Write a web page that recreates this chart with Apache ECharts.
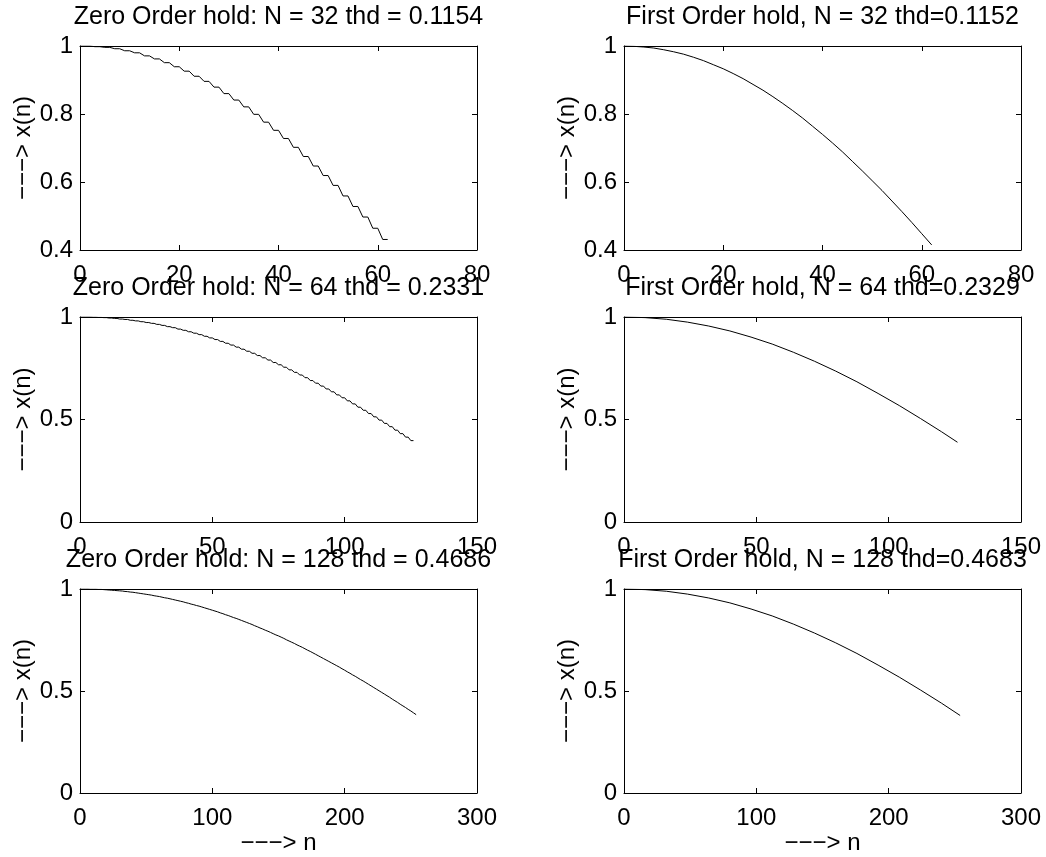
<!DOCTYPE html>
<html><head><meta charset="utf-8">
<script src="https://cdn.jsdelivr.net/npm/echarts/dist/echarts.min.js"></script>
<style>html,body{margin:0;padding:0;background:#fff}#c{width:1046px;height:857px}</style>
</head><body><div id="c"></div>
<script>
// ---- text ----
const titles = [
  "Zero Order hold: N = 32 thd = 0.1154",
  "First Order hold, N = 32 thd=0.1152",
  "Zero Order hold: N = 64 thd = 0.2331",
  "First Order hold, N = 64 thd=0.2329",
  "Zero Order hold: N = 128 thd = 0.4686",
  "First Order hold, N = 128 thd=0.4683"
];
const yName = "\u2212\u2212\u2212> x(n)";
const xName = "\u2212\u2212\u2212> n";

// ---- tick values ----
const xTicks32 = [0, 20, 40, 60, 80];
const xTicks64 = [0, 50, 100, 150];
const xTicks128 = [0, 100, 200, 300];
const yTicksTop = [0.4, 0.6, 0.8, 1];
const yTicksLow = [0, 0.5, 1];

// ---- zero order hold: held sample levels (each held over two output samples) ----
const zoh32Levels = [1.000,1.000,0.998,0.996,0.992,0.986,0.980,0.971,0.962,0.951,0.939,0.926,0.911,0.896,0.879,0.860,
  0.841,0.821,0.799,0.776,0.752,0.728,0.702,0.675,0.647,0.619,0.590,0.559,0.528,0.497,0.464,0.431];
const zoh64Levels = [1.000,1.000,1.000,0.999,0.998,0.997,0.995,0.993,0.990,0.988,
  0.984,0.981,0.977,0.973,0.969,0.964,0.959,0.953,0.948,0.941,
  0.935,0.928,0.921,0.914,0.906,0.898,0.890,0.881,0.872,0.863,
  0.853,0.843,0.833,0.823,0.812,0.801,0.790,0.778,0.767,0.755,
  0.742,0.730,0.717,0.704,0.690,0.677,0.663,0.649,0.635,0.620,
  0.606,0.591,0.576,0.560,0.545,0.529,0.513,0.497,0.481,0.465,
  0.448,0.431,0.414,0.397];
const zoh128Levels = [1.000,1.000,1.000,1.000,0.999,0.999,0.999,0.998,0.998,0.997,
  0.996,0.995,0.994,0.993,0.992,0.991,0.990,0.988,0.987,0.985,
  0.984,0.982,0.980,0.978,0.976,0.974,0.972,0.970,0.967,0.965,
  0.963,0.960,0.957,0.955,0.952,0.949,0.946,0.943,0.940,0.937,
  0.933,0.930,0.926,0.923,0.919,0.916,0.912,0.908,0.904,0.900,
  0.896,0.892,0.888,0.883,0.879,0.874,0.870,0.865,0.860,0.856,
  0.851,0.846,0.841,0.836,0.831,0.826,0.820,0.815,0.809,0.804,
  0.798,0.793,0.787,0.781,0.775,0.770,0.764,0.758,0.751,0.745,
  0.739,0.733,0.726,0.720,0.714,0.707,0.700,0.694,0.687,0.680,
  0.673,0.666,0.659,0.652,0.645,0.638,0.631,0.624,0.617,0.609,
  0.602,0.594,0.587,0.579,0.572,0.564,0.556,0.549,0.541,0.533,
  0.525,0.517,0.509,0.501,0.493,0.485,0.477,0.469,0.460,0.452,
  0.444,0.435,0.427,0.419,0.410,0.402,0.393,0.384];

// ---- first order hold: sample points (n, x(n)) joined linearly ----
const foh32N = [0,2,4,6,8,10,12,14,16,18,20,22,24,26,28,30,32,34,36,38,40,42,44,46,48,50,52,54,56,58,60,62];
const foh32X = [1.000,0.999,0.997,0.994,0.989,0.983,0.976,0.967,0.957,0.945,0.933,0.919,0.904,0.887,0.870,0.851,
  0.831,0.810,0.788,0.764,0.740,0.715,0.689,0.661,0.633,0.604,0.575,0.544,0.513,0.481,0.448,0.415];
const foh64N = [0,8,16,24,32,40,48,56,64,72,80,88,96,104,112,120,126];
const foh64X = [1.000,0.997,0.989,0.975,0.956,0.932,0.902,0.868,0.828,0.784,0.736,0.684,0.627,0.568,0.505,0.440,0.389];
const foh128N = [0,16,32,48,64,80,96,112,128,144,160,176,192,208,224,240,254];
const foh128X = [1.000,0.997,0.989,0.975,0.956,0.932,0.902,0.868,0.828,0.784,0.736,0.684,0.627,0.568,0.505,0.440,0.380];

function zohPoints(levels) {
  const pts = [[0, levels[0]]];
  for (let k = 1; k < levels.length; k++) {
    pts.push([2 * k - 1, levels[k]], [2 * k, levels[k]]);
  }
  return pts;
}
function zip(a, b) { return a.map((v, i) => [v, b[i]]); }

const panels = [
  { data: zohPoints(zoh32Levels), xt: xTicks32, yt: yTicksTop },
  { data: zip(foh32N, foh32X), xt: xTicks32, yt: yTicksTop },
  { data: zohPoints(zoh64Levels), xt: xTicks64, yt: yTicksLow },
  { data: zip(foh64N, foh64X), xt: xTicks64, yt: yTicksLow },
  { data: zohPoints(zoh128Levels), xt: xTicks128, yt: yTicksLow },
  { data: zip(foh128N, foh128X), xt: xTicks128, yt: yTicksLow }
];

// ---- layout ----
const FONT = "'Liberation Sans', Arial, Helvetica, sans-serif";
const colLeft = [80, 624];
const rowTop = [46, 317, 589];
const rowH = [204, 205, 204];
const W = 397;

const grid = [], xAxis = [], yAxis = [], series = [], title = [];
const lineCol = '#000';
panels.forEach((p, i) => {
  const r = Math.floor(i / 2), c = i % 2;
  grid.push({ left: colLeft[c], top: rowTop[r], width: W, height: rowH[r], containLabel: false });
  const xmin = p.xt[0], xmax = p.xt[p.xt.length - 1], xint = p.xt[1] - p.xt[0];
  const ymin = p.yt[0], ymax = p.yt[p.yt.length - 1], yint = +(p.yt[1] - p.yt[0]).toFixed(6);
  const common = {
    type: 'value', gridIndex: i,
    axisLine: { show: true, onZero: false, lineStyle: { color: lineCol, width: 1 } },
    axisTick: { show: true, inside: true, length: 5, lineStyle: { color: lineCol, width: 1 } },
    splitLine: { show: false }
  };
  xAxis.push(Object.assign({}, common, {
    position: 'bottom', min: xmin, max: xmax, interval: xint,
    axisLabel: { color: '#000', fontSize: 24, fontFamily: FONT, margin: 13 },
    name: r === 2 ? xName : '', nameLocation: 'middle', nameGap: 38,
    nameTextStyle: { color: '#000', fontSize: 24, fontFamily: FONT }
  }));
  xAxis.push(Object.assign({}, common, {
    position: 'top', min: xmin, max: xmax, interval: xint, axisLabel: { show: false }
  }));
  yAxis.push(Object.assign({}, common, {
    position: 'left', min: ymin, max: ymax, interval: yint,
    axisLabel: { color: '#000', fontSize: 24, fontFamily: FONT, margin: 7 },
    name: yName, nameLocation: 'middle', nameGap: 45, nameRotate: 90,
    nameTextStyle: { color: '#000', fontSize: 24, fontFamily: FONT }
  }));
  yAxis.push(Object.assign({}, common, {
    position: 'right', min: ymin, max: ymax, interval: yint, axisLabel: { show: false }
  }));
  series.push({
    type: 'line', xAxisIndex: 2 * i, yAxisIndex: 2 * i, data: p.data,
    symbol: 'none', showSymbol: false, silent: true,
    lineStyle: { color: '#000', width: 1 }
  });
  title.push({
    text: titles[i], left: colLeft[c] + W / 2, top: rowTop[r] - 41, textAlign: 'center', padding: 0,
    textStyle: { color: '#000', fontSize: 25, fontWeight: 'normal', fontFamily: FONT }
  });
});

const chart = echarts.init(document.getElementById('c'), null, { renderer: 'canvas' });
chart.setOption({
  backgroundColor: '#fff', animation: false,
  title, grid, xAxis, yAxis, series
});
</script>
</body></html>
